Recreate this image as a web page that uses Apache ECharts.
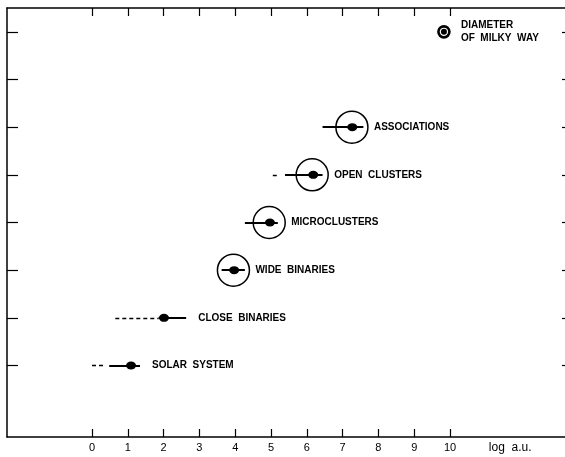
<!DOCTYPE html>
<html>
<head>
<meta charset="utf-8">
<script src="https://cdn.jsdelivr.net/npm/echarts@6/dist/echarts.min.js"></script>
<style>
  html, body { margin: 0; padding: 0; background: #fff; }
  #chart { width: 565px; height: 457px; }
</style>
</head>
<body>
<div id="chart"></div>
<script>
// rows, bottom to top (row 7 is empty in the figure)
const names = ['SOLAR  SYSTEM', 'CLOSE  BINARIES', 'WIDE  BINARIES', 'MICROCLUSTERS', 'OPEN  CLUSTERS', 'ASSOCIATIONS', 'DIAMETER\nOF  MILKY  WAY'];
const rowIndex = [1, 2, 3, 4, 5, 6, 8];
// log a.u. values
const typical  = [1.09, 2.01, 3.97, 4.97, 6.18, 7.27, 9.83];
const solidLo  = [0.48, 1.86, 3.62, 4.27, 5.39, 6.44, null];
const solidHi  = [1.34, 2.63, 4.27, 5.19, 6.44, 7.58, null];
const dashLo   = [0.0, 0.65, null, null, 5.05, null, null];
const dashHi   = [0.32, 1.86, null, null, 5.20, null, null];
const circleAt = [null, null, 3.95, 4.95, 6.15, 7.26, null];
const xTicks = [0, 1, 2, 3, 4, 5, 6, 7, 8, 9, 10];
const yTicks = [1, 2, 3, 4, 5, 6, 7, 8];

const ink = '#000';
const labelFont = { color: ink, fontSize: 10, fontWeight: 'bold', fontFamily: 'Liberation Sans', opacity: 1 };

const segs = (lo, hi) => lo.map((v, i) => v == null ? null : { coords: [[v, rowIndex[i]], [hi[i], rowIndex[i]]] }).filter(Boolean);

const circleData = circleAt.map((v, i) => v == null ? null : [v, rowIndex[i]]).filter(Boolean);
const dotData = typical.slice(0, 6).map((v, i) => [v, rowIndex[i]]);
const milky = [[typical[6], rowIndex[6]]];

const labelData = names.map((n, i) => {
  let x, d;
  if (circleAt[i] != null) { x = circleAt[i]; d = 22; }
  else if (solidHi[i] != null) { x = solidHi[i]; d = 12; }
  else { x = typical[i]; d = 17; }
  return { value: [x, rowIndex[i]], name: n, label: { distance: d } };
});

function frameAxis(pos, min, max, ticks, tickLen, showLabel) {
  return {
    type: 'value', position: pos, min: min, max: max,
    splitLine: { show: false },
    axisLine: { show: true, onZero: false, lineStyle: { color: ink, width: 1.5 } },
    axisTick: { show: true, inside: true, length: tickLen, customValues: ticks, lineStyle: { color: ink, width: 1.2 } },
    axisLabel: { show: showLabel }
  };
}

const bottomAxis = frameAxis('bottom', -2.375, 13.38, xTicks, 8, true);
bottomAxis.axisLabel = {
  customValues: xTicks.concat([11.68]),
  formatter: v => v > 10.5 ? '{u|log  a.u.}' : String(v),
  color: ink, fontSize: 11, fontFamily: 'Liberation Sans', margin: 5,
  rich: { u: { fontSize: 12, fontFamily: 'Liberation Sans', color: ink } }
};

const chart = echarts.init(document.getElementById('chart'));
chart.setOption({
  animation: false,
  backgroundColor: '#fff',
  grid: { left: 7, right: -6, top: 8, bottom: 20, outerBoundsMode: 'none' },
  xAxis: [bottomAxis, frameAxis('top', -2.375, 13.38, xTicks, 8, false)],
  yAxis: [frameAxis('left', -0.5, 8.5, yTicks, 11, false), frameAxis('right', -0.5, 8.5, yTicks, 9, false)],
  series: [{
    type: 'lines', coordinateSystem: 'cartesian2d', silent: true,
    lineStyle: { color: ink, width: 1.3, type: [4, 3], opacity: 1 },
    data: segs(dashLo, dashHi)
  }, {
    type: 'lines', coordinateSystem: 'cartesian2d', silent: true,
    lineStyle: { color: ink, width: 2, type: 'solid', opacity: 1 },
    data: segs(solidLo, solidHi)
  }, {
    type: 'scatter', symbol: 'circle', symbolSize: 32,
    itemStyle: { color: 'rgba(0,0,0,0)', borderColor: ink, borderWidth: 1.5, opacity: 1 },
    data: circleData
  }, {
    type: 'scatter', symbol: 'circle', symbolSize: [10, 8],
    itemStyle: { color: ink, opacity: 1 },
    data: dotData
  }, {
    type: 'scatter', symbol: 'circle', symbolSize: 11,
    itemStyle: { color: '#fff', borderColor: ink, borderWidth: 2.6, opacity: 1 },
    data: milky
  }, {
    type: 'scatter', symbol: 'circle', symbolSize: 6,
    itemStyle: { color: ink, opacity: 1 },
    data: milky
  }, {
    type: 'scatter', symbolSize: 0, silent: true,
    label: {
      show: true, position: 'right', formatter: p => p.name,
      lineHeight: 13, align: 'left', ...labelFont
    },
    data: labelData
  }]
});
</script>
</body>
</html>
